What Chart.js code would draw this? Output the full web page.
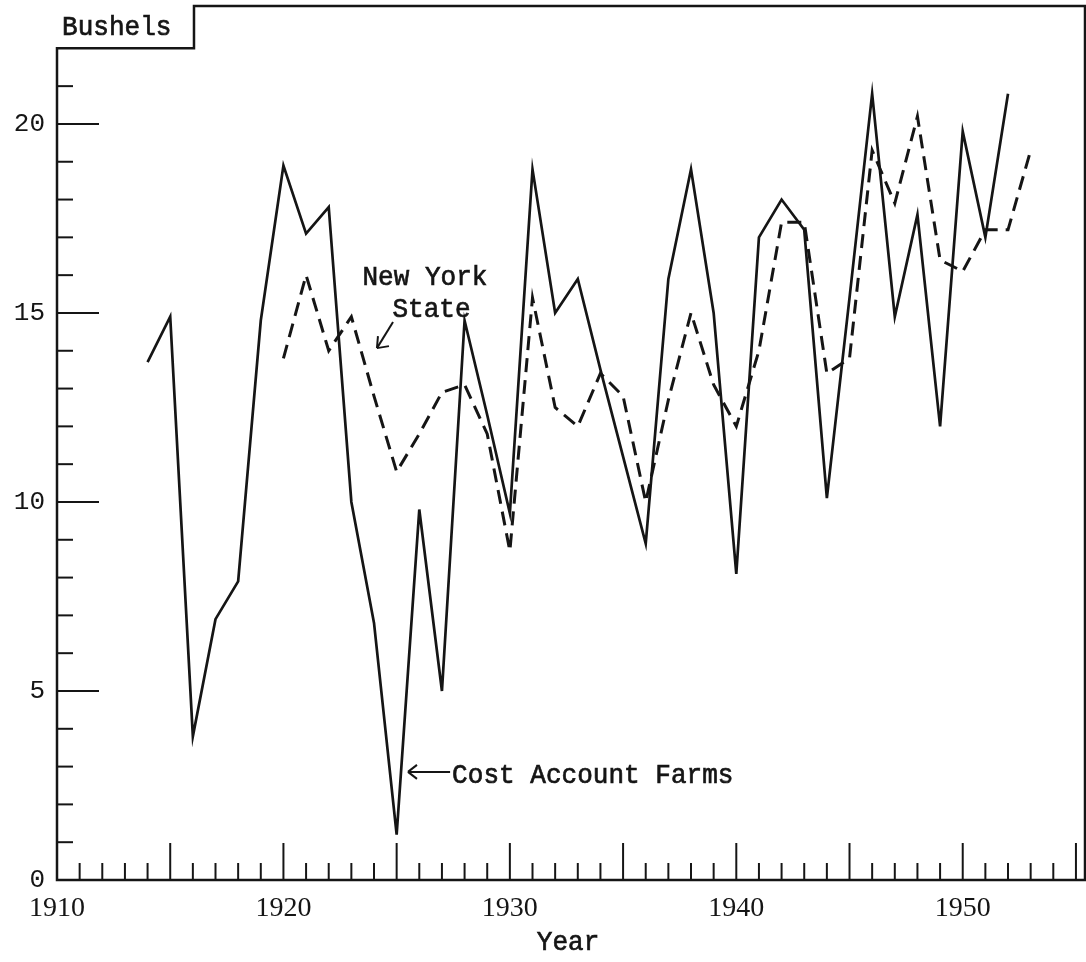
<!DOCTYPE html>
<html>
<head>
<meta charset="utf-8">
<title>Bushels per acre, Cost Account Farms and New York State</title>
<script src="https://cdn.jsdelivr.net/npm/chart.js@4.4.1/dist/chart.umd.min.js"></script>
<style>
  html, body { margin: 0; padding: 0; background: #fff; }
  #wrap { width: 1086px; height: 962px; position: relative; }
</style>
</head>
<body>
<div id="wrap"><canvas id="yieldChart"></canvas></div>
<script>
// values (bushels)
const farmYears = [1914, 1915, 1916, 1917, 1918, 1919, 1920, 1921, 1922, 1923,
    1924, 1925, 1926, 1927, 1928, 1929, 1930, 1931, 1932, 1933,
    1934, 1935, 1936, 1937, 1938, 1939, 1940, 1941, 1942, 1943,
    1944, 1945, 1946, 1947, 1948, 1949, 1950, 1951, 1952];
const farmBushels = [13.7, 14.9, 3.8, 6.9, 7.9, 14.8, 18.9, 17.1, 17.8, 10.0,
    6.8, 1.2, 9.8, 5.0, 14.8, 12.3, 9.7, 18.8, 15.0, 15.9,
    13.5, 11.2, 8.9, 15.9, 18.8, 15.0, 8.1, 17.0, 18.0, 17.2,
    10.1, 15.4, 20.8, 14.9, 17.6, 12.0, 19.8, 17.0, 20.8];

const stateYears = [1920, 1921, 1922, 1923, 1924, 1925, 1926, 1927, 1928, 1929,
    1930, 1931, 1932, 1933, 1934, 1935, 1936, 1937, 1938, 1939,
    1940, 1941, 1942, 1943, 1944, 1945, 1946, 1947, 1948, 1949,
    1950, 1951, 1952, 1953];
const stateBushels = [13.8, 16.0, 14.0, 14.9, 12.8, 10.8, 11.8, 12.9, 13.1, 11.8,
    8.7, 15.4, 12.5, 12.0, 13.4, 12.8, 10.0, 12.7, 15.0, 13.1,
    12.0, 14.0, 17.4, 17.4, 13.4, 13.8, 19.3, 17.9, 20.2, 16.4,
    16.1, 17.2, 17.2, 19.3];

const yTickLabels = [0, 5, 10, 15, 20];
const xTickLabels = [1910, 1920, 1930, 1940, 1950];

const ink = '#151515';
const typeFont = '"Liberation Mono", "DejaVu Sans Mono", monospace';

// typewriter-ish lettering: slightly narrowed and inked a little heavier
function typeText(ctx, str, x, y, align) {
    ctx.save();
    ctx.font = '28px ' + typeFont;
    ctx.textBaseline = 'middle';
    ctx.textAlign = align || 'left';
    ctx.translate(x, y);
    ctx.scale(0.93, 1);
    ctx.lineWidth = 0.7;
    ctx.fillText(str, 0, 0);
    ctx.strokeText(str, 0, 0);
    ctx.restore();
}

function segment(ctx, x1, y1, x2, y2) {
    ctx.beginPath();
    ctx.moveTo(x1, y1);
    ctx.lineTo(x2, y2);
    ctx.stroke();
}

// frame with the notch for "Bushels", inward tick marks and the hand notes
const paperPlugin = {
    id: 'paper',
    afterDraw(chart) {
        const ctx = chart.ctx;
        const a = chart.chartArea;
        const x = chart.scales.x;
        const y = chart.scales.y;

        ctx.save();
        ctx.strokeStyle = ink;
        ctx.fillStyle = ink;
        ctx.lineCap = 'square';

        const notchX = x.getPixelForValue(1916.05);
        const notchY = y.getPixelForValue(22);
        ctx.lineWidth = 2.5;
        ctx.beginPath();
        ctx.moveTo(a.left, notchY);
        ctx.lineTo(notchX, notchY);
        ctx.lineTo(notchX, a.top);
        ctx.lineTo(a.right, a.top);
        ctx.lineTo(a.right, a.bottom);
        ctx.lineTo(a.left, a.bottom);
        ctx.closePath();
        ctx.stroke();

        ctx.lineWidth = 2;
        ctx.lineCap = 'butt';
        for (let yr = 1911; yr < x.max; yr++) {
            const px = x.getPixelForValue(yr);
            segment(ctx, px, a.bottom, px, a.bottom - (yr % 5 === 0 ? 37 : 17));
        }
        for (let v = 1; v <= 21; v++) {
            const py = y.getPixelForValue(v);
            segment(ctx, a.left, py, a.left + (v % 5 === 0 ? 42 : 16), py);
        }

        // labels
        typeText(ctx, 'Bushels', a.left + 5, y.getPixelForValue(22) - 21, 'left');
        typeText(ctx, 'Year', x.getPixelForValue(1932.57), a.bottom + 63, 'center');

        typeText(ctx, 'New York', x.getPixelForValue(1926.25), y.getPixelForValue(15.93), 'center');
        typeText(ctx, 'State', x.getPixelForValue(1926.54), y.getPixelForValue(15.08), 'center');
        typeText(ctx, 'Cost Account Farms', x.getPixelForValue(1927.45), y.getPixelForValue(2.75), 'left');

        ctx.lineWidth = 2;
        // arrow to New York State line
        const nyTail = [x.getPixelForValue(1924.84), y.getPixelForValue(14.76)];
        const nyTip = [x.getPixelForValue(1924.13), y.getPixelForValue(14.07)];
        segment(ctx, nyTail[0], nyTail[1], nyTip[0], nyTip[1]);
        segment(ctx, nyTip[0], nyTip[1], nyTip[0] + 1, nyTip[1] - 12);
        segment(ctx, nyTip[0], nyTip[1], nyTip[0] + 12, nyTip[1] - 2);

        // arrow to Cost Account Farms line
        const cTip = [x.getPixelForValue(1925.5), y.getPixelForValue(2.86)];
        const cTail = [x.getPixelForValue(1927.36), y.getPixelForValue(2.86)];
        segment(ctx, cTail[0], cTail[1], cTip[0], cTip[1]);
        segment(ctx, cTip[0], cTip[1], cTip[0] + 9, cTip[1] - 7);
        segment(ctx, cTip[0], cTip[1], cTip[0] + 9, cTip[1] + 7);

        ctx.restore();
    }
};

document.addEventListener('DOMContentLoaded', function() {
    if (typeof Chart === 'undefined') {
        console.error('Chart.js is not loaded.');
        return;
    }

    const ctx = document.getElementById('yieldChart').getContext('2d');

    new Chart(ctx, {
        type: 'line',
        data: {
            datasets: [{
                label: 'Cost Account Farms',
                data: farmYears.map((yr, i) => ({ x: yr, y: farmBushels[i] })),
                borderColor: ink,
                borderWidth: 2.7,
                pointRadius: 0,
                tension: 0,
                fill: false
            }, {
                label: 'New York State',
                data: stateYears.map((yr, i) => ({ x: yr, y: stateBushels[i] })),
                borderColor: ink,
                borderWidth: 3,
                borderDash: [14, 8],
                pointRadius: 0,
                tension: 0,
                fill: false
            }]
        },
        options: {
            responsive: true,
            maintainAspectRatio: false,
            animation: false,
            layout: {
                padding: { top: 6, right: 1, left: 0, bottom: 0 }
            },
            plugins: {
                legend: { display: false },
                tooltip: { enabled: false }
            },
            scales: {
                x: {
                    type: 'linear',
                    min: 1910,
                    max: 1955.4,
                    afterFit: scale => {
                        scale.height = 82;
                        scale.paddingLeft = 0;
                        scale.paddingRight = 0;
                    },
                    afterBuildTicks: scale => {
                        scale.ticks = xTickLabels.map(v => ({ value: v }));
                    },
                    grid: { display: false, drawTicks: false },
                    border: { display: false },
                    ticks: {
                        autoSkip: false,
                        maxRotation: 0,
                        padding: 12,
                        color: ink,
                        font: { family: '"Liberation Serif", "DejaVu Serif", serif', size: 28 },
                        callback: value => String(value)
                    }
                },
                y: {
                    min: 0,
                    max: 23.12,
                    afterFit: scale => {
                        scale.width = 57;
                        scale.paddingTop = 0;
                        scale.paddingBottom = 0;
                    },
                    afterBuildTicks: scale => {
                        scale.ticks = yTickLabels.map(v => ({ value: v }));
                    },
                    grid: { display: false, drawTicks: false },
                    border: { display: false },
                    ticks: {
                        padding: 12,
                        color: ink,
                        font: { family: typeFont, size: 26 },
                        callback: value => String(value)
                    }
                }
            }
        },
        plugins: [paperPlugin]
    });
});
</script>
</body>
</html>
